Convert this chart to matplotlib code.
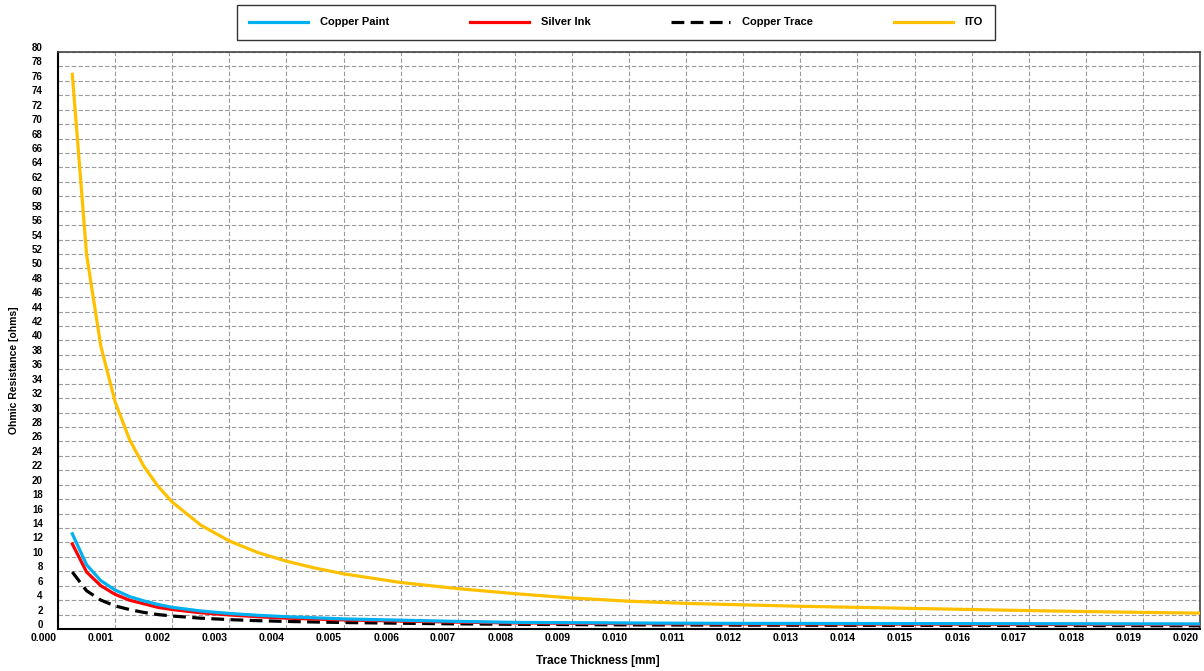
import matplotlib
matplotlib.use("Agg")
import matplotlib.pyplot as plt
import matplotlib.transforms as mtransforms
from matplotlib.ticker import MultipleLocator, FormatStrFormatter

plt.rcParams['font.family'] = ['Liberation Sans', 'DejaVu Sans']
plt.rcParams['font.weight'] = 'bold'

# trace thickness [mm] (as positioned on the chart)
thickness = [0.00025, 0.0005, 0.00075, 0.001, 0.00125, 0.0015, 0.00175, 0.002,
             0.0025, 0.003, 0.0035, 0.004, 0.0045, 0.005, 0.006, 0.007, 0.008,
             0.009, 0.010, 0.011, 0.012, 0.013, 0.014, 0.015, 0.016, 0.017,
             0.018, 0.019, 0.020]

# resistance [ohms]
copper_paint = [13.2, 8.9, 6.7, 5.4, 4.5, 3.9, 3.4, 3.0, 2.5, 2.15, 1.9, 1.7, 1.55,
                1.4, 1.22, 1.05, 0.92, 0.87, 0.83, 0.8, 0.78, 0.77, 0.76, 0.75,
                0.74, 0.73, 0.72, 0.71, 0.70]
silver_ink = [11.8, 7.9, 6.0, 4.8, 4.0, 3.5, 3.0, 2.7, 2.25, 1.95, 1.7, 1.5, 1.38,
              1.26, 1.1, 0.95, 0.84, 0.79, 0.75, 0.72, 0.70, 0.69, 0.68, 0.67,
              0.66, 0.65, 0.64, 0.63, 0.62]
copper_trace = [7.9, 5.3, 4.0, 3.2, 2.7, 2.3, 2.0, 1.8, 1.5, 1.3, 1.15, 1.05, 0.97,
                0.9, 0.8, 0.71, 0.65, 0.61, 0.57, 0.55, 0.53, 0.52, 0.51, 0.50,
                0.49, 0.48, 0.47, 0.46, 0.45]
ito = [76.9, 51.9, 39.2, 31.5, 26.3, 22.6, 19.8, 17.6, 14.4, 12.2, 10.6, 9.4, 8.45,
       7.65, 6.45, 5.6, 4.9, 4.3, 3.85, 3.55, 3.35, 3.15, 3.0, 2.85, 2.7,
       2.55, 2.42, 2.3, 2.2]

fig = plt.figure(figsize=(12.04, 6.71), dpi=100)
ax = fig.add_axes([0.0482, 0.0626, 0.9485, 0.8599])

lw = 2.3
ax.plot(thickness, copper_paint, color='#00B0F0', lw=lw, label='Copper Paint', zorder=5)
ax.plot(thickness, silver_ink, color='#FF0000', lw=lw, label='Silver Ink', zorder=4)
ax.plot(thickness, copper_trace, color='black', lw=lw, ls=(0, (4, 2)), label='Copper Trace', zorder=3)
ax.plot(thickness, ito, color='#FFC000', lw=lw, label='ITO', zorder=6)

ax.set_xlim(0, 0.020)
ax.set_ylim(0, 80)
ax.xaxis.set_major_locator(MultipleLocator(0.001))
ax.xaxis.set_major_formatter(FormatStrFormatter('%.3f'))
ax.yaxis.set_major_locator(MultipleLocator(2))
ax.tick_params(axis='both', length=0)
ax.tick_params(axis='x', labelsize=7.5, pad=3)
ax.tick_params(axis='y', labelsize=7, pad=11)

# Excel-style label placement: x labels sit left of their gridline, y labels a bit high
xshift = mtransforms.ScaledTranslation(-1.5 / 100, 0, fig.dpi_scale_trans)
for lab in ax.get_xticklabels():
    lab.set_fontweight('bold')
    lab.set_horizontalalignment('right')
    lab.set_transform(lab.get_transform() + xshift)
yshift = mtransforms.ScaledTranslation(0, 5 / 100, fig.dpi_scale_trans)
for lab in ax.get_yticklabels():
    lab.set_fontweight('bold')
    lab.set_transform(lab.get_transform() + yshift)

ax.grid(True, color='#9a9a9a', ls=(0, (4, 2)), lw=0.8)
for s in ['left', 'bottom']:
    ax.spines[s].set_color('black')
    ax.spines[s].set_linewidth(1.5)
for s in ['top', 'right']:
    ax.spines[s].set_color('#444444')
    ax.spines[s].set_linewidth(1.2)

ax.set_xlabel('Trace Thickness [mm]', fontsize=8.5, fontweight='bold')
ax.set_ylabel('Ohmic Resistance [ohms]', fontsize=7.5, fontweight='bold')
ax.xaxis.set_label_coords(0.473, -0.045)
ax.yaxis.set_label_coords(-0.034, 0.448)

leg = fig.legend(loc='center', bbox_to_anchor=(0.5116, 0.9665), ncol=4,
                 frameon=True, fancybox=False, edgecolor='black',
                 handlelength=5.3, columnspacing=7.3, handletextpad=1.05,
                 borderpad=1.1, borderaxespad=0,
                 prop={'weight': 'bold', 'size': 8})
leg.get_frame().set_linewidth(1.0)

fig.savefig('out.png', dpi=100)
